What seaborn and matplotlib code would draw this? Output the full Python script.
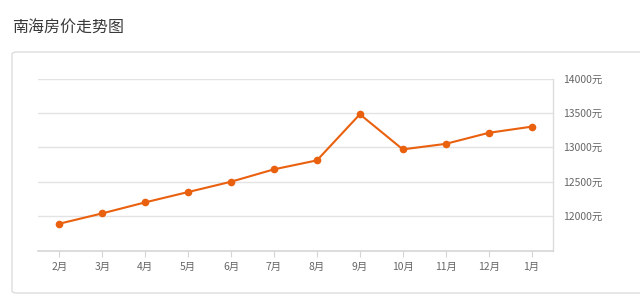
import matplotlib
matplotlib.use("Agg")
import matplotlib.pyplot as plt
from matplotlib.patches import FancyBboxPatch
import seaborn as sns
import pandas as pd

months = ["2月", "3月", "4月", "5月", "6月", "7月", "8月", "9月", "10月", "11月", "12月", "1月"]
prices = [11890, 12040, 12200, 12350, 12500, 12680, 12810, 13480, 12970, 13050, 13210, 13300]
yticks = [12000, 12500, 13000, 13500, 14000]
ytick_labels = [f"{v}元" for v in yticks]
title = "南海房价走势图"

sns.set_theme(style="white")
plt.rcParams['font.family'] = ['Noto Sans CJK SC', 'DejaVu Sans']

fig = plt.figure(figsize=(6.4, 2.98), dpi=100)
W, H = 640, 298

# card background
card = FancyBboxPatch((12 / W, 1 - 293 / H), (700 - 12) / W, (293 - 52) / H,
                      boxstyle="round,pad=0,rounding_size=0.008",
                      transform=fig.transFigure, facecolor="white",
                      edgecolor="#dddddd", linewidth=1.0, zorder=-5)
fig.patches.append(card)

fig.text(12 / W, 1 - 28 / H, title, fontsize=11.5, color="#3a3a3a", va="center", ha="left")

ax = fig.add_axes([38 / W, 1 - 250.5 / H, (553 - 38) / W, (250.5 - 78.5) / H])
ax.set_zorder(5)
ax.set_facecolor("none")

df = pd.DataFrame({"month": months, "price": prices})
sns.lineplot(data=df, x="month", y="price", ax=ax, color="#E9600F",
             linewidth=1.5, marker="o", markersize=5.5, markeredgewidth=0, sort=False, zorder=3)

ax.set_xlim(-0.5, len(months) - 0.5)
ax.set_ylim(11500, 14000)
ax.set_yticks(yticks)
ax.set_yticklabels(ytick_labels)
ax.yaxis.tick_right()
ax.set_xticks(range(len(months)))
ax.set_xticklabels(months)
ax.set_xlabel("")
ax.set_ylabel("")

for y in yticks:
    ax.axhline(y, color="#e3e3e3", linewidth=1.0, zorder=1)

for side in ["left", "top"]:
    ax.spines[side].set_visible(False)
ax.spines["right"].set_color("#dddddd")
ax.spines["bottom"].set_color("#d5d5d5")
ax.spines["right"].set_linewidth(1.0)
ax.spines["bottom"].set_linewidth(1.2)

ax.tick_params(axis="x", which="both", bottom=True, length=4, width=0.8, color="#d5d5d5",
               labelsize=7.5, labelcolor="#666666", pad=4)
ax.tick_params(axis="y", which="both", right=False, left=False, length=0,
               labelsize=7.5, labelcolor="#666666", pad=7)

fig.savefig("out.png", dpi=100, facecolor="white")
